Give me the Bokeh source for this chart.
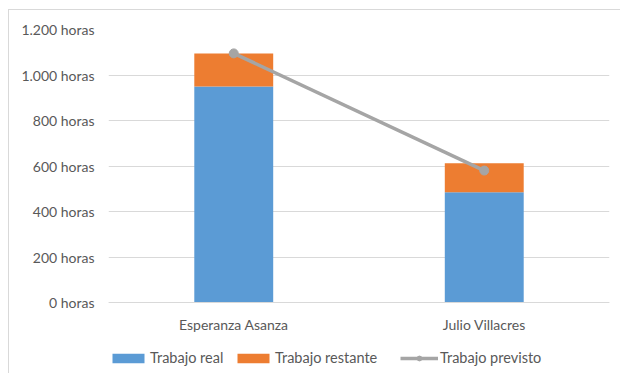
from bokeh.plotting import figure
from bokeh.models import ColumnDataSource, FixedTicker, Legend, LegendItem, FactorRange, Range1d
from bokeh.embed import file_html
from bokeh.resources import INLINE

personas = ["Esperanza Asanza", "Julio Villacres"]
trabajo_real = [950, 485]
trabajo_restante = [145, 127]
trabajo_previsto = [1095, 580]
tick_values = [0, 200, 400, 600, 800, 1000, 1200]
tick_labels = ["0 horas", "200 horas", "400 horas", "600 horas", "800 horas", "1.000 horas", "1.200 horas"]

FONT = "Lato"
TXT = "#595959"
FS = "14px"

W, H = 612, 364
TOP, LEFT, RIGHT = 19, 99, 12
PLOT_PX = 273          # pixel height of the 0..1200 band
FRAME_PX = H - TOP     # frame runs to the bottom so the legend sits inside it
y_max = tick_values[-1]
y_min = y_max - y_max * FRAME_PX / PLOT_PX

src = ColumnDataSource(dict(persona=personas, real=trabajo_real, restante=trabajo_restante,
                            previsto=trabajo_previsto))

p = figure(width=W, height=H, x_range=FactorRange(*personas, range_padding=0),
           y_range=Range1d(y_min, y_max), output_backend="svg", toolbar_location=None,
           min_border_left=LEFT, min_border_right=RIGHT, min_border_top=TOP, min_border_bottom=0)
p.styles = {"border-left": "1px solid #d9d9d9", "border-top": "1px solid #d9d9d9",
            "margin-left": "8px", "margin-top": "9px"}
p.outline_line_color = None
p.background_fill_color = "white"

bars = p.vbar_stack(["real", "restante"], x="persona", width=0.315, source=src,
                    color=["#5B9BD5", "#ED7D31"], line_color=None)
ln = p.line(x="persona", y="previsto", source=src, line_color="#A5A5A5", line_width=3.5)
pts = p.scatter(x="persona", y="previsto", source=src, size=9, color="#A5A5A5")

p.yaxis.ticker = FixedTicker(ticks=tick_values)
p.yaxis.major_label_overrides = {v: l for v, l in zip(tick_values, tick_labels)}
for ax in (p.xaxis, p.yaxis):
    ax.major_tick_line_color = None
    ax.major_tick_out = 0
    ax.major_tick_in = 0
    ax.minor_tick_line_color = None
    ax.major_label_text_font = FONT
    ax.major_label_text_font_size = FS
    ax.major_label_text_color = TXT
p.yaxis.axis_line_color = None
p.yaxis.major_label_standoff = 14
p.xaxis.fixed_location = 0
p.xaxis.axis_line_color = "#d9d9d9"
p.xaxis.major_label_standoff = 13
p.xgrid.grid_line_color = None
p.ygrid.grid_line_color = "#d9d9d9"
p.ygrid.ticker = FixedTicker(ticks=tick_values)

legend_entries = [
    (LegendItem(label="Trabajo real", renderers=[bars[0]]), 0, 40),
    (LegendItem(label="Trabajo restante", renderers=[bars[1]]), 125, 40),
    (LegendItem(label="Trabajo previsto", renderers=[ln, pts]), 292, 38),
]
for item, lx, gw in legend_entries:
    lg = Legend(items=[item], location=(lx, 8), orientation="horizontal",
                border_line_color=None, background_fill_alpha=0, padding=0, margin=0,
                glyph_width=gw, glyph_height=12, label_standoff=2,
                label_text_font=FONT, label_text_font_size="14.5px", label_text_color=TXT)
    p.add_layout(lg, "center")

open("out.html", "w").write(file_html(p, INLINE))
